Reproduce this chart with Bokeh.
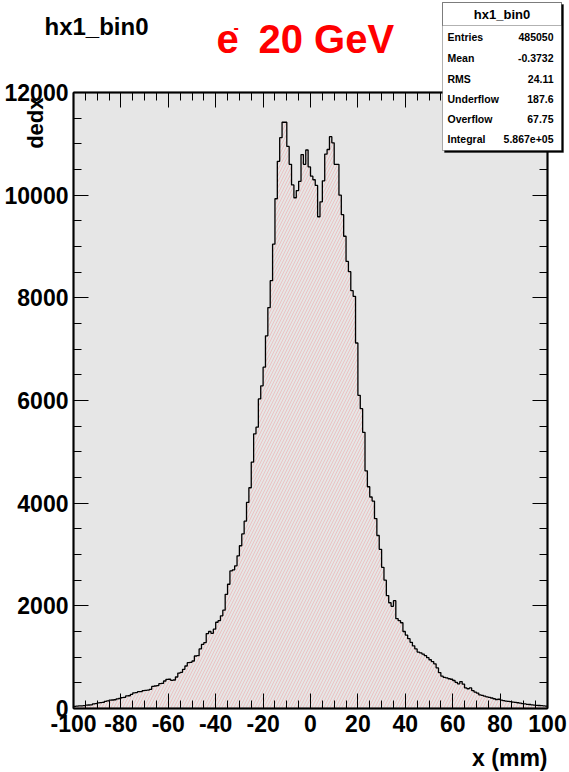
import numpy as np
from bokeh.plotting import figure
from bokeh.models import (Range1d, LinearAxis, SingleIntervalTicker, Label,
                          BoxAnnotation, CustomJSTickFormatter)
from bokeh.embed import file_html
from bokeh.resources import INLINE

# ---------------- data ----------------
x_low = -100.0
x_high = 100.0
counts = [
    40, 45, 50, 50, 55, 65, 68, 72, 92, 96,            # -100 .. -91
    110, 114, 118, 140, 150, 162, 166, 170, 188, 195,  # -90 .. -81
    211, 215, 244, 248, 276, 305, 310, 328, 330, 350,  # -80 .. -71
    354, 358, 373, 430, 438, 445, 484, 488, 536, 568,  # -70 .. -61
    570, 549, 555, 614, 690, 705, 763, 828, 893, 900,  # -60 .. -51
    925, 1023, 1030, 1160, 1250, 1285, 1460, 1500, 1465, 1545,  # -50 .. -41
    1680, 1710, 1805, 1915, 2225, 2420, 2680, 2700, 2780, 2975,  # -40 .. -31
    3170, 3400, 3650, 4015, 4300, 4800, 5350, 5480, 6030, 6285,  # -30 .. -21
    6650, 7260, 7810, 8335, 9045, 9930, 10660, 11120, 11420, 11420,  # -20 .. -11
    10950, 10600, 10200, 9950, 10090, 10270, 10790, 10600, 10880, 10550,  # -10 .. -1
    10370, 10300, 10190, 9580, 9870, 10280, 10800, 10890, 11140, 11020,  # 0 .. 9
    10600, 10600, 10000, 9620, 9200, 8710, 8510, 8140, 8030, 7120,  # 10 .. 19
    6100, 5840, 5380, 4630, 4320, 4120, 4040, 3700, 3370, 3100,  # 20 .. 29
    2750, 2500, 2200, 2060, 1990, 2100, 1750, 1710, 1670, 1500,  # 30 .. 39
    1430, 1360, 1290, 1220, 1160, 1100, 1085, 1060, 1030, 990,  # 40 .. 49
    950, 915, 870, 790, 700, 630, 605, 595, 580, 570,  # 50 .. 59
    545, 510, 480, 525, 475, 400, 385, 400, 350, 320,  # 60 .. 69
    300, 265, 255, 240, 225, 215, 205, 190, 175, 180,  # 70 .. 79
    165, 155, 145, 140, 135, 125, 118, 112, 105, 95,   # 80 .. 89
    90, 82, 78, 72, 65, 60, 58, 55, 52, 48,            # 90 .. 99
]
y_low = 0
y_high = 12000
hist_title = "hx1_bin0"
beam_label = "20 GeV"
x_title = "x (mm)"
y_title = "dedx"
stat_names = ["Entries", "Mean", "RMS", "Underflow", "Overflow", "Integral"]
stat_values = ["485050", "-0.3732", "24.11", "187.6", "67.75", "5.867e+05"]

n_bins = len(counts)
edges = np.linspace(x_low, x_high, n_bins + 1)
step_y = list(counts) + [counts[-1]]

# ---------------- layout ----------------
W, H = 569, 772
FL, FR, FT, FB = 73, 547, 92, 708   # histogram frame edges, page pixels
FONT = "Liberation Sans"
BASE_SHIFT = 0.385                  # renderer's baseline offset, in em

xs = (FR - FL) / (x_high - x_low)
ys = (FB - FT) / (y_high - y_low)
xr = Range1d(x_low - FL / xs, x_high + (W - FR) / xs)
yr = Range1d(y_low - (H - FB) / ys, y_high + FT / ys)

p = figure(width=W, height=H, output_backend="svg", toolbar_location=None,
           x_range=xr, y_range=yr, x_axis_location=None, y_axis_location=None,
           min_border=0)
p.title.visible = False
p.grid.visible = False
p.background_fill_color = "white"
p.border_fill_color = "white"
p.outline_line_color = None

# grey histogram frame
p.add_layout(BoxAnnotation(left=x_low, right=x_high, bottom=y_low, top=y_high,
                           fill_color="#e6e6e6", fill_alpha=1.0,
                           line_color="black", line_width=2, level="underlay"))

fmt = CustomJSTickFormatter(code="return tick.toFixed(0);")
nofmt = CustomJSTickFormatter(code="return '';")

def make_axis(place, ticker, loc, bounds, labels=True):
    ax = LinearAxis(ticker=ticker, fixed_location=loc, bounds=bounds)
    ax.formatter = fmt if labels else nofmt
    ax.axis_line_color = "black"
    ax.axis_line_width = 2
    ax.major_tick_in = 15
    ax.major_tick_out = 0
    ax.minor_tick_in = 8
    ax.minor_tick_out = 0
    ax.major_tick_line_color = "black"
    ax.minor_tick_line_color = "black"
    ax.major_tick_line_width = 1
    ax.minor_tick_line_width = 1
    ax.major_label_text_font = FONT
    ax.major_label_text_font_style = "bold"
    ax.major_label_text_font_size = "23px"
    ax.major_label_text_color = "black"
    p.add_layout(ax, place)
    return ax

xb = make_axis("below", SingleIntervalTicker(interval=20, num_minor_ticks=4),
               y_low, (x_low, x_high))
xb.major_label_standoff = 6
yl = make_axis("left", SingleIntervalTicker(interval=2000, num_minor_ticks=4),
               x_low, (y_low, y_high))
yl.major_label_standoff = 5
make_axis("above", SingleIntervalTicker(interval=20, num_minor_ticks=4),
          y_high, (x_low, x_high), labels=False)
make_axis("right", SingleIntervalTicker(interval=2000, num_minor_ticks=4),
          x_high, (y_low, y_high), labels=False)

# ---------------- histogram ----------------
p.varea_step(x=edges, y1=np.zeros(n_bins + 1), y2=step_y, step_mode="after",
             fill_alpha=0, hatch_pattern="/", hatch_color="#ff2020",
             hatch_alpha=0.3, hatch_scale=6, hatch_weight=0.6)
p.step(x=edges, y=step_y, mode="after", line_color="black", line_width=1.3)

# ---------------- texts ----------------
def lab(px, py, text, size, align="left", color="black", rotated=False):
    shift = BASE_SHIFT * size
    if rotated:
        x, y, ang = px - shift, H - py, np.pi / 2
    else:
        x, y, ang = px, H - py + shift, 0.0
    p.add_layout(Label(x=x, y=y, x_units="screen", y_units="screen",
                       text=text, text_font=FONT, text_font_style="bold",
                       text_font_size=f"{size}px", text_align=align,
                       text_baseline="alphabetic", text_color=color, angle=ang,
                       level="overlay"))

lab(44, 35, hist_title, 24)
lab(216, 54, "e", 40, color="red")
lab(233, 33, "-", 16, color="red")
lab(258, 54, beam_label, 40, color="red")
lab(43, 97, y_title, 22, align="right", rotated=True)
lab(547, 766, x_title, 23, align="right")

# ---------------- stats box ----------------
def box(l, t, r, b, fill, line_color="black", line_width=1, fill_alpha=1.0):
    p.add_layout(BoxAnnotation(left=l, right=r, top=H - t, bottom=H - b,
                               left_units="screen", right_units="screen",
                               top_units="screen", bottom_units="screen",
                               fill_color=fill, fill_alpha=fill_alpha,
                               line_color=line_color, line_width=line_width,
                               level="overlay"))

box(444, 4, 563, 152, "black")
box(442, 2, 561, 150, "white")
box(442, 2, 561, 25, None, fill_alpha=0)
lab(501.5, 19, hist_title, 13, align="center")
row_y = [37, 58, 78.5, 99, 119, 139]
for name, val, ry in zip(stat_names, stat_values, row_y):
    lab(447, ry + 4, name, 10.5)
    lab(553, ry + 4, val, 10.5, align="right")

open("out.html", "w").write(file_html(p, INLINE))
